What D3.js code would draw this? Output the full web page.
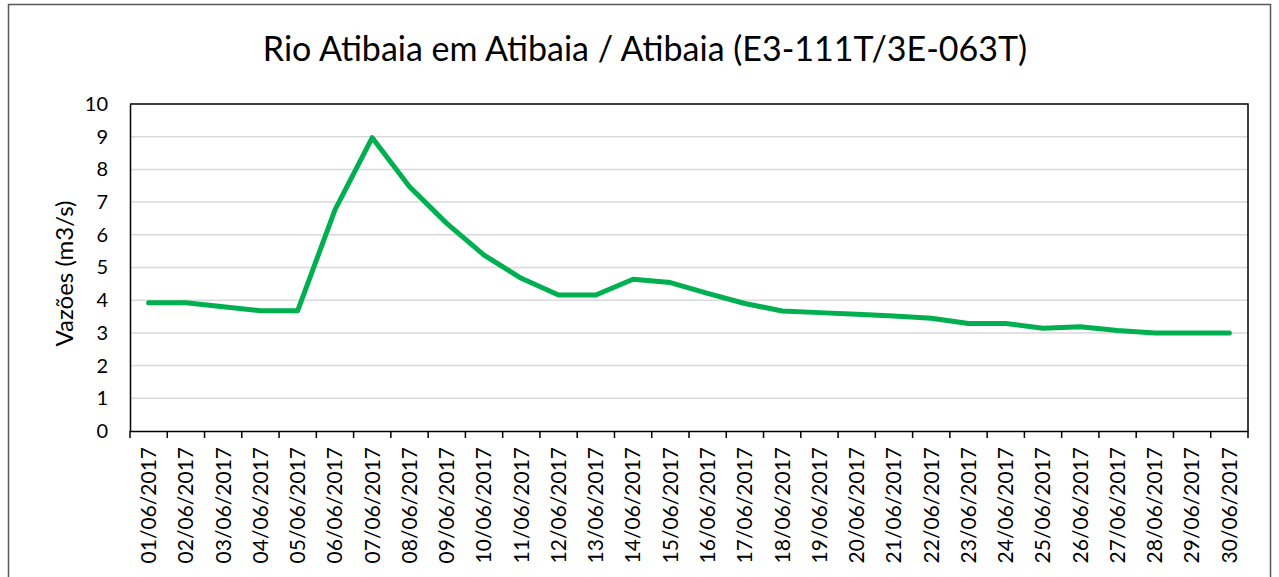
<!DOCTYPE html>
<html>
<head>
<meta charset="utf-8">
<script src="https://cdn.jsdelivr.net/npm/d3@7"></script>
<style>
  body { margin: 0; background: #fff; }
  svg text { font-family: Lato, "Liberation Sans", sans-serif; fill: #000; }
</style>
</head>
<body>
<svg id="chart"></svg>
<script>
// dates on the x axis
const dates = ["01/06/2017","02/06/2017","03/06/2017","04/06/2017","05/06/2017","06/06/2017",
  "07/06/2017","08/06/2017","09/06/2017","10/06/2017","11/06/2017","12/06/2017","13/06/2017",
  "14/06/2017","15/06/2017","16/06/2017","17/06/2017","18/06/2017","19/06/2017","20/06/2017",
  "21/06/2017","22/06/2017","23/06/2017","24/06/2017","25/06/2017","26/06/2017","27/06/2017",
  "28/06/2017","29/06/2017","30/06/2017"];

// flow values (m3/s)
const flows = [3.92, 3.92, 3.80, 3.68, 3.68, 6.76, 8.97, 7.47, 6.35, 5.38, 4.67, 4.16, 4.16,
  4.64, 4.54, 4.21, 3.90, 3.67, 3.62, 3.57, 3.52, 3.45, 3.29, 3.29, 3.14, 3.19, 3.07, 3.00,
  3.00, 3.00];

const yTicks = [0, 1, 2, 3, 4, 5, 6, 7, 8, 9, 10];
const title = "Rio Atibaia em Atibaia / Atibaia (E3-111T/3E-063T)";
const yLabel = "Vazões (m3/s)";

const width = 1279, height = 577;
const margin = { top: 104, right: 31, bottom: 146, left: 130 };
const innerW = width - margin.left - margin.right;
const innerH = height - margin.top - margin.bottom;

const svg = d3.select("#chart")
    .attr("width", width)
    .attr("height", height);

// outer chart frame
svg.append("rect")
    .attr("x", 8.5).attr("y", 4.5)
    .attr("width", 1262).attr("height", 600)
    .attr("fill", "#fff")
    .attr("stroke", "#595959")
    .attr("stroke-width", 1.5);

svg.append("text")
    .attr("x", 645).attr("y", 61)
    .attr("text-anchor", "middle")
    .style("font-size", "34px")
    .text(title);

const g = svg.append("g")
    .attr("transform", `translate(${margin.left},${margin.top})`);

const x = d3.scaleBand()
    .domain(dates)
    .range([0, innerW]);

const y = d3.scaleLinear()
    .domain([0, 10])
    .range([innerH, 0]);

// gridlines
g.selectAll(".grid")
    .data(yTicks.filter(d => d > 0 && d < 10))
    .join("line")
    .attr("class", "grid")
    .attr("x1", 0).attr("x2", innerW)
    .attr("y1", d => y(d)).attr("y2", d => y(d))
    .attr("stroke", "#d9d9d9")
    .attr("stroke-width", 1.5);

// plot area border (top + right)
g.append("path")
    .attr("d", `M0,0H${innerW}V${innerH}`)
    .attr("fill", "none")
    .attr("stroke", "#000")
    .attr("stroke-width", 1.5);

// y axis
const yAxis = g.append("g")
    .call(d3.axisLeft(y).tickValues(yTicks).tickSize(0).tickPadding(22));
yAxis.select(".domain").attr("stroke", "#000").attr("stroke-width", 1.5);
yAxis.selectAll("text").style("font-size", "20px").style("font-family", "Lato, sans-serif");

// x axis
const xAxis = g.append("g")
    .attr("transform", `translate(0,${innerH})`)
    .call(d3.axisBottom(x).tickSize(0));
xAxis.select(".domain").attr("stroke", "#000").attr("stroke-width", 1.5);
xAxis.selectAll(".tick text")
    .style("font-size", "21px")
    .style("font-family", "Lato, sans-serif")
    .attr("text-anchor", "end")
    .attr("transform", "rotate(-90)")
    .attr("x", -16)
    .attr("y", 0)
    .attr("dy", "0.35em");

// tick marks at band boundaries
g.selectAll(".xtick")
    .data(d3.range(dates.length + 1))
    .join("line")
    .attr("class", "xtick")
    .attr("x1", i => i * x.step()).attr("x2", i => i * x.step())
    .attr("y1", innerH).attr("y2", innerH + 7)
    .attr("stroke", "#000")
    .attr("stroke-width", 1.5);

svg.append("text")
    .attr("transform", `translate(73,${margin.top + innerH / 2 + 6}) rotate(-90)`)
    .attr("text-anchor", "middle")
    .style("font-size", "24px")
    .text(yLabel);

const line = d3.line()
    .x((d, i) => x(dates[i]) + x.bandwidth() / 2)
    .y(d => y(d));

g.append("path")
    .datum(flows)
    .attr("fill", "none")
    .attr("stroke", "#00b050")
    .attr("stroke-width", 5)
    .attr("stroke-linejoin", "round")
    .attr("stroke-linecap", "round")
    .attr("d", line);
</script>
</body>
</html>
